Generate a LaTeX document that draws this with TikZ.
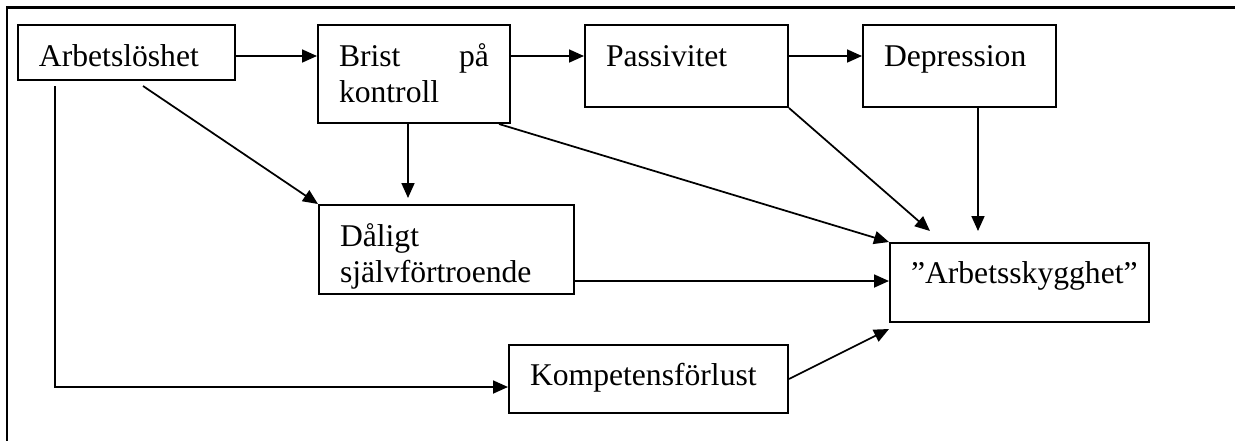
\documentclass[tikz,border=0pt]{standalone}
\usepackage{fontspec}
\setmainfont{Liberation Serif}
\usetikzlibrary{arrows.meta}

\begin{document}
\begin{tikzpicture}[
    box/.style={draw, line width=0.04cm, anchor=north west, align=left,
        inner xsep=0.42cm, inner ysep=0pt, font=\fontsize{18}{21}\selectfont},
    arr/.style={line width=0.035cm, -{Triangle[length=0.3cm,width=0.26cm]}}]
    \useasboundingbox (0,0) rectangle (24.7,-8.82);
    \draw[line width=0.06cm] (24.7,-0.14) -- (0.14,-0.14) -- (0.14,-8.82);

    \node[box, text width=3.5cm, text height=0.82cm, text depth=0.28cm] (arb) at (0.34,-0.48) {Arbetslöshet};
    \node[box, text width=3.0cm, text height=0.82cm, text depth=1.14cm] (brist) at (6.34,-0.48) {Brist\hfill på\\kontroll};
    \node[box, text width=3.22cm, text height=0.82cm, text depth=0.82cm] (pass) at (11.68,-0.48) {Passivitet};
    \node[box, text width=3.02cm, text height=0.82cm, text depth=0.82cm] (dep) at (17.24,-0.48) {Depression};
    \node[box, text width=4.26cm, text height=0.82cm, text depth=0.96cm] (dal) at (6.36,-4.08) {Dåligt\\självförtroende};
    \node[box, text width=4.34cm, text height=0.8cm, text depth=0.78cm] (sky) at (17.78,-4.84) {”Arbetsskygghet”};
    \node[box, text width=4.74cm, text height=0.8cm, text depth=0.56cm] (komp) at (10.16,-6.88) {Kompetensförlust};

    \draw[arr] ([yshift=-0.64cm]arb.north east) -- ([yshift=-0.64cm]brist.north west);
    \draw[arr] ([yshift=-0.64cm]brist.north east) -- ([yshift=-0.64cm]pass.north west);
    \draw[arr] ([yshift=-0.64cm]pass.north east) -- ([yshift=-0.64cm]dep.north west);
    \draw[arr] ([xshift=0.33cm,yshift=-0.1cm]arb.south) -- (dal.north west);
    \draw[arr, shorten >=0.12cm] ([xshift=-0.12cm]brist.south) -- ([xshift=-0.12cm]brist.south |- dal.north);
    \draw[arr] ([xshift=-0.24cm]brist.south east) -- (sky.north west);
    \draw[arr] (pass.south east) -- ([xshift=0.82cm,yshift=0.22cm]sky.north west);
    \draw[arr] ([xshift=0.37cm]dep.south) -- ([xshift=0.37cm,yshift=0.22cm]dep.south |- sky.north);
    \draw[arr] ([yshift=0.28cm]dal.south east) -- ([yshift=0.28cm]dal.south east -| sky.west);
    \draw[arr] ([xshift=-1.43cm,yshift=-0.1cm]arb.south) |- ([yshift=-0.16cm]komp.west);
    \draw[arr] (komp.east) -- ([yshift=-0.12cm]sky.south west);
\end{tikzpicture}
\end{document}
